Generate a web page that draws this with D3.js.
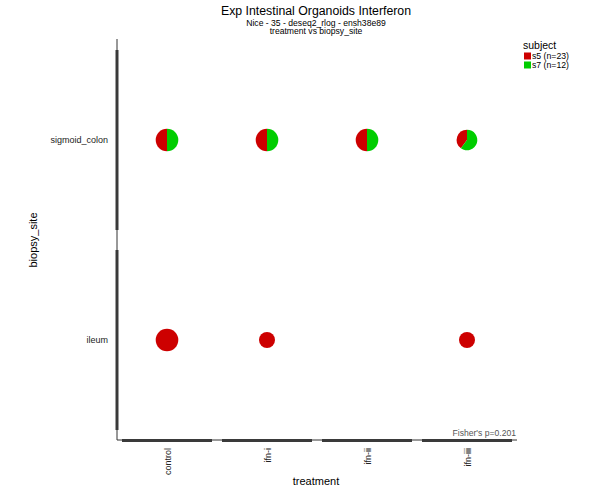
<!DOCTYPE html>
<html>
<head>
<meta charset="utf-8">
<script src="https://cdn.jsdelivr.net/npm/d3@7"></script>
<style>
  html, body { margin: 0; padding: 0; background: #fff; }
  svg { display: block; font-family: "Liberation Sans", Arial, Helvetica, sans-serif; }
</style>
</head>
<body>
<svg id="chart" width="595" height="489"></svg>
<script>
// Categories
const treatments = ["control", "ifn-i", "ifn-ii", "ifn-iii"];
const sites = ["sigmoid_colon", "ileum"];
const subjects = ["s5", "s7"];
const subjectCounts = [23, 12];
const subjectColors = ["#CD0000", "#00CD00"];

// Sample counts per cell
const cellTreatment = ["control", "ifn-i", "ifn-ii", "ifn-iii", "control", "ifn-i", "ifn-iii"];
const cellSite = ["sigmoid_colon", "sigmoid_colon", "sigmoid_colon", "sigmoid_colon", "ileum", "ileum", "ileum"];
const cellS5 = [3, 3, 3, 2, 6, 3, 3];
const cellS7 = [3, 3, 3, 3, 0, 0, 0];

const fisherP = "0.201";

const svg = d3.select("#chart");
const plotLeft = 117, plotRight = 517, plotTop = 40, plotBottom = 440;

const x = d3.scaleBand().domain(treatments).range([plotLeft, plotRight]);
const y = d3.scaleBand().domain(sites).range([plotTop, plotBottom]);
const r = d3.scaleSqrt().domain([0, 6]).range([0, 11.3]);

// Titles
svg.append("text").attr("x", 316).attr("y", 15).attr("text-anchor", "middle")
  .attr("font-size", 12.3).attr("fill", "#000").text("Exp Intestinal Organoids Interferon");
svg.append("text").attr("x", 316).attr("y", 25.5).attr("text-anchor", "middle")
  .attr("font-size", 8.6).attr("fill", "#000").text("Nice - 35 - deseq2_rlog - ensh38e89");
svg.append("text").attr("x", 316).attr("y", 34).attr("text-anchor", "middle")
  .attr("font-size", 8.6).attr("fill", "#000").text("treatment vs biopsy_site");

// Thin axis lines
svg.append("line").attr("x1", plotLeft).attr("x2", plotLeft).attr("y1", plotTop - 1).attr("y2", plotBottom)
  .attr("stroke", "#333").attr("stroke-width", 1);
svg.append("line").attr("x1", plotLeft).attr("x2", plotRight).attr("y1", plotBottom).attr("y2", plotBottom)
  .attr("stroke", "#333").attr("stroke-width", 1);

// Thick range-frame segments per category
const padX = x.bandwidth() * 0.05, padY = y.bandwidth() * 0.05;
svg.selectAll("line.xseg").data(treatments).join("line").attr("class", "xseg")
  .attr("x1", d => x(d) + padX).attr("x2", d => x(d) + x.bandwidth() - padX)
  .attr("y1", plotBottom + 0.5).attr("y2", plotBottom + 0.5)
  .attr("stroke", "#3a3a3a").attr("stroke-width", 3);
svg.selectAll("line.yseg").data(sites).join("line").attr("class", "yseg")
  .attr("x1", plotLeft).attr("x2", plotLeft)
  .attr("y1", d => y(d) + padY).attr("y2", d => y(d) + y.bandwidth() - padY)
  .attr("stroke", "#3a3a3a").attr("stroke-width", 3);

// Tick labels
svg.selectAll("text.ylab").data(sites).join("text").attr("class", "ylab")
  .attr("x", 108).attr("y", d => y(d) + y.bandwidth() / 2).attr("dy", "0.35em")
  .attr("text-anchor", "end").attr("font-size", 9).attr("fill", "#222").text(d => d);
svg.selectAll("text.xlab").data(treatments).join("text").attr("class", "xlab")
  .attr("transform", d => `translate(${x(d) + x.bandwidth() / 2 + 1},448) rotate(-90)`)
  .attr("dy", "0.35em").attr("text-anchor", "end")
  .attr("font-size", 9).attr("fill", "#222").text(d => d);

// Axis titles
svg.append("text").attr("x", 316).attr("y", 485).attr("text-anchor", "middle")
  .attr("font-size", 11).attr("fill", "#000").text("treatment");
svg.append("text").attr("transform", "translate(37,240) rotate(-90)")
  .attr("text-anchor", "middle").attr("font-size", 11).attr("fill", "#000").text("biopsy_site");

// Pies: s5 sweeps counter-clockwise from 12 o'clock, s7 clockwise
const arc = d3.arc().innerRadius(0);
const cells = cellTreatment.map((t, i) => ({ t, s: cellSite[i], v: [cellS5[i], cellS7[i]] }));
cells.forEach(c => {
  const total = d3.sum(c.v);
  const rad = r(total);
  const cx = x(c.t) + x.bandwidth() / 2, cy = y(c.s) + y.bandwidth() / 2;
  const g = svg.append("g").attr("transform", `translate(${cx},${cy})`);
  const f5 = c.v[0] / total;
  if (f5 >= 1) {
    g.append("circle").attr("r", rad).attr("fill", subjectColors[0]);
  } else if (f5 <= 0) {
    g.append("circle").attr("r", rad).attr("fill", subjectColors[1]);
  } else {
    g.append("path").attr("fill", subjectColors[0])
      .attr("d", arc({ outerRadius: rad, startAngle: -f5 * 2 * Math.PI, endAngle: 0 }));
    g.append("path").attr("fill", subjectColors[1])
      .attr("d", arc({ outerRadius: rad, startAngle: 0, endAngle: (1 - f5) * 2 * Math.PI }));
  }
});

// Fisher test annotation
svg.append("text").attr("x", 516).attr("y", 436).attr("text-anchor", "end")
  .attr("font-size", 8.6).attr("fill", "#555").text(`Fisher's p=${fisherP}`);

// Legend
svg.append("text").attr("x", 523).attr("y", 48.5).attr("font-size", 10.5).attr("fill", "#000").text("subject");
const lg = svg.selectAll("g.leg").data(subjects).join("g").attr("class", "leg")
  .attr("transform", (d, i) => `translate(524,${52.5 + i * 9})`);
lg.append("rect").attr("width", 7).attr("height", 7).attr("fill", (d, i) => subjectColors[i]);
lg.append("text").attr("x", 8).attr("y", 6.5).attr("font-size", 8.7).attr("fill", "#000")
  .text((d, i) => `${d} (n=${subjectCounts[i]})`);
</script>
</body>
</html>
